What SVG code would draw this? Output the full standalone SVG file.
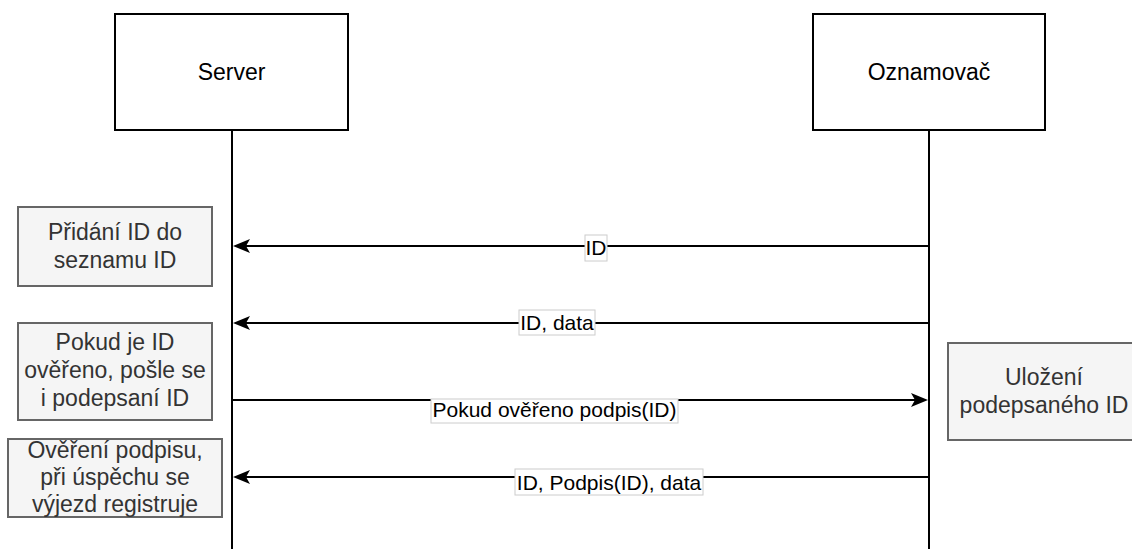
<svg xmlns="http://www.w3.org/2000/svg" width="1132" height="549" viewBox="0 0 1132 549">
  <style>
    .actor { fill: #ffffff; stroke: #000000; stroke-width: 2; }
    .note { fill: #f5f5f5; stroke: #666666; stroke-width: 2; }
    .life { stroke: #000000; stroke-width: 2; fill: none; }
    .msg { stroke: #000000; stroke-width: 2; fill: none; }
    .lblbg { fill: #ffffff; stroke: #cccccc; stroke-width: 1; }
    text { font-family: "Liberation Sans", Arial, Helvetica, sans-serif; text-anchor: middle; }
    .t-actor { font-size: 23px; fill: #000000; }
    .t-note { font-size: 23px; fill: #333333; }
    .t-msg { font-size: 21px; fill: #000000; }
  </style>
  <defs>
    <path id="head" d="M0,0 L-17,-7 L-13,0 L-17,7 Z" fill="#000000"/>
  </defs>

  <rect width="1132" height="549" fill="#ffffff"/>

  <!-- lifelines -->
  <g id="lifelines">
    <line class="life" x1="232" y1="130" x2="232" y2="549"/>
    <line class="life" x1="929" y1="130" x2="929" y2="549"/>
  </g>

  <g id="server">
    <rect class="actor" x="115" y="14" width="233" height="116"/>
    <text class="t-actor" x="231.5" y="80">Server</text>
  </g>

  <g id="oznamovac">
    <rect class="actor" x="813" y="14" width="232" height="116"/>
    <text class="t-actor" x="929" y="80">Oznamovač</text>
  </g>

  <g id="note-pridani">
    <rect class="note" x="18" y="207" width="194" height="79"/>
    <text class="t-note" x="115" y="240">Přidání ID do</text>
    <text class="t-note" x="115" y="268">seznamu ID</text>
  </g>

  <g id="note-pokud">
    <rect class="note" x="18" y="323" width="194" height="97"/>
    <text class="t-note" x="115" y="350">Pokud je ID</text>
    <text class="t-note" x="115" y="378">ověřeno, pošle se</text>
    <text class="t-note" x="115" y="406">i podepsaní ID</text>
  </g>

  <g id="note-overeni">
    <rect class="note" x="8" y="439" width="214" height="78"/>
    <text class="t-note" x="115" y="458">Ověření podpisu,</text>
    <text class="t-note" x="115" y="485">při úspěchu se</text>
    <text class="t-note" x="115" y="512">výjezd registruje</text>
  </g>

  <g id="note-ulozeni">
    <rect class="note" x="948" y="343" width="194" height="97"/>
    <text class="t-note" x="1044" y="385">Uložení</text>
    <text class="t-note" x="1044" y="413">podepsaného ID</text>
  </g>

  <!-- messages -->
  <g id="connectors">
    <line class="msg" x1="929" y1="246" x2="240" y2="246"/>
    <use href="#head" transform="translate(233,246) rotate(180)"/>
    <rect class="lblbg" x="585" y="235" width="22" height="26"/>
    <text class="t-msg" x="596" y="255">ID</text>

    <line class="msg" x1="929" y1="323" x2="240" y2="323"/>
    <use href="#head" transform="translate(233,323) rotate(180)"/>
    <rect class="lblbg" x="519" y="310" width="76" height="25"/>
    <text class="t-msg" x="557" y="330">ID, data</text>

    <line class="msg" x1="232" y1="400" x2="921" y2="400"/>
    <use href="#head" transform="translate(928,400)"/>
    <rect class="lblbg" x="431" y="399" width="247" height="24"/>
    <text class="t-msg" x="554.5" y="417">Pokud ověřeno podpis(ID)</text>

    <line class="msg" x1="929" y1="477" x2="240" y2="477"/>
    <use href="#head" transform="translate(233,477) rotate(180)"/>
    <rect class="lblbg" x="515" y="469" width="188" height="26"/>
    <text class="t-msg" x="609" y="490">ID, Podpis(ID), data</text>
  </g>
</svg>
